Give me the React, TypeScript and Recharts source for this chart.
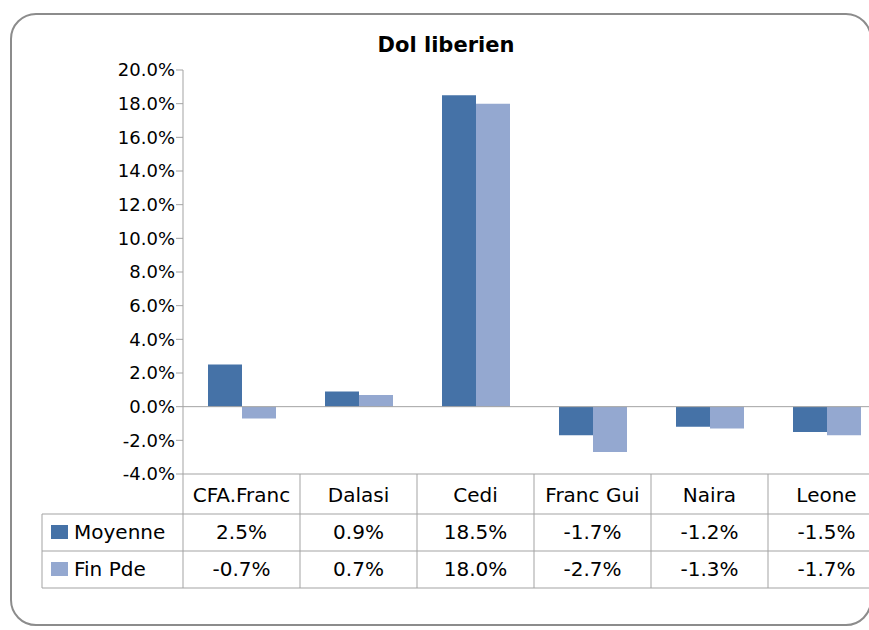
import { BarChart, Bar, XAxis, YAxis, ReferenceLine } from 'recharts'

const categories = ['CFA.Franc', 'Dalasi', 'Cedi', 'Franc Gui', 'Naira', 'Leone']
const moyenne = [2.5, 0.9, 18.5, -1.7, -1.2, -1.5]
const finPde = [-0.7, 0.7, 18.0, -2.7, -1.3, -1.7]
const yTicks = [-4, -2, 0, 2, 4, 6, 8, 10, 12, 14, 16, 18, 20]
const seriesNames = ['Moyenne', 'Fin Pde']

const COLORS = ['#4572a7', '#94a8d0']
const GRID = '#a3a3a3'
const FONT = '"DejaVu Sans", sans-serif'
const CELL = 117

const data = categories.map((name, i) => ({ name, moyenne: moyenne[i], finPde: finPde[i] }))
const rows = [moyenne, finPde]

const fmt = (v: number) => `${v.toFixed(1)}%`

// draws one column of the data table under each category
function TableTick(props: any) {
  const { x, y, payload, index } = props
  const left = x - CELL / 2
  const right = x + CELL / 2
  const rowLines = [40, 77, 114]
  const baselines = [65, 102]
  return (
    <g>
      <line x1={left} y1={y} x2={left} y2={y + 114} stroke={GRID} />
      {index === categories.length - 1 && <line x1={right} y1={y} x2={right} y2={y + 114} stroke={GRID} />}
      {rowLines.map((d) => (
        <line key={d} x1={left} y1={y + d} x2={right} y2={y + d} stroke={GRID} />
      ))}
      <text x={x} y={y + 28} textAnchor="middle" fontSize={20} fontFamily={FONT} fill="#000">
        {payload.value}
      </text>
      {rows.map((r, k) => (
        <text key={k} x={x} y={y + baselines[k]} textAnchor="middle" fontSize={20} fontFamily={FONT} fill="#000">
          {fmt(r[index])}
        </text>
      ))}
      {index === 0 && (
        <g>
          <line x1={42} y1={y + 40} x2={42} y2={y + 114} stroke={GRID} />
          {rowLines.map((d) => (
            <line key={d} x1={42} y1={y + d} x2={left} y2={y + d} stroke={GRID} />
          ))}
          {seriesNames.map((s, k) => (
            <g key={s}>
              <rect x={51} y={y + baselines[k] - 14} width={17} height={14} fill={COLORS[k]} />
              <text x={74} y={y + baselines[k]} fontSize={20} fontFamily={FONT} fill="#000">
                {s}
              </text>
            </g>
          ))}
        </g>
      )}
    </g>
  )
}

export default function App() {
  return (
    <div style={{ position: 'fixed', left: 0, top: 0, width: 869, height: 630, overflow: 'hidden', background: '#fff' }}>
      <div
        style={{
          position: 'absolute',
          left: 10,
          top: 13,
          width: 862,
          height: 613,
          boxSizing: 'border-box',
          border: '2px solid #8c8c8c',
          borderRadius: 26,
        }}
      />
      <div
        style={{
          position: 'absolute',
          left: 0,
          top: 35,
          width: 892,
          textAlign: 'center',
          fontFamily: FONT,
          fontWeight: 'bold',
          fontSize: 21,
          lineHeight: '21px',
        }}
      >
        Dol liberien
      </div>
      <div style={{ position: 'absolute', left: 0, top: 0 }}>
        <BarChart
          width={900}
          height={630}
          data={data}
          margin={{ top: 70, right: 15, bottom: 26, left: 123 }}
          barCategoryGap={25}
          barGap={0}
        >
          <YAxis
            width={60}
            domain={[-4, 20]}
            ticks={yTicks}
            tickFormatter={fmt}
            tickSize={7}
            tickMargin={1}
            axisLine={{ stroke: GRID }}
            tickLine={{ stroke: GRID }}
            tick={{ fontSize: 18, fontFamily: FONT, fill: '#000' }}
            interval={0}
          />
          <XAxis
            dataKey="name"
            height={130}
            interval={0}
            tickLine={false}
            tickSize={0}
            tickMargin={0}
            axisLine={{ stroke: GRID }}
            tick={<TableTick />}
          />
          <ReferenceLine y={0} stroke={GRID} />
          <Bar dataKey="moyenne" fill={COLORS[0]} isAnimationActive={false} />
          <Bar dataKey="finPde" fill={COLORS[1]} isAnimationActive={false} />
        </BarChart>
      </div>
    </div>
  )
}
